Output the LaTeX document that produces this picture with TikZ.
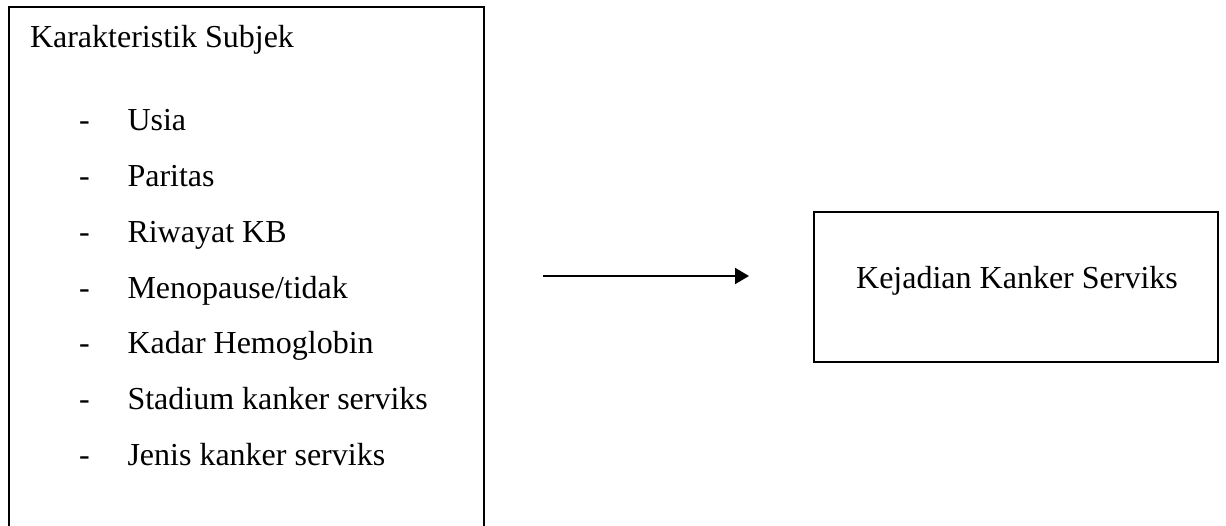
\documentclass[tikz,border=0pt]{standalone}
\usepackage{fontspec}
\setmainfont{Liberation Serif}
\usetikzlibrary{arrows.meta}
\begin{document}
\begin{tikzpicture}[x=0.375pt, y=-0.375pt, line width=0.75pt,
    font=\fontsize{12}{14}\selectfont,
    label text/.style={anchor=base west, inner sep=0pt},
    boxframe/.style={draw, inner sep=0pt, minimum width=151.5pt, minimum height=56.25pt}]
	\path[use as bounding box, clip] (0,0) rectangle (1226,526);

	% left frame, open below the page edge
	\draw (9,560) -- (9,7) -- (484,7) -- (484,560);
	\node[label text] (subjek) at (29,48) {Karakteristik Subjek};

	\foreach \txt [count=\i] in {Usia, Paritas, Riwayat KB, Menopause/tidak,
	    Kadar Hemoglobin, Stadium kanker serviks, Jenis kanker serviks} {
		\node[label text] (dash\i) at (78,{131+55.7*(\i-1)}) {-};
		\node[label text] (item\i) at (126.5,{131+55.7*(\i-1)}) {\txt};
	}

	% arrow
	\coordinate (arrowstart) at (543,276);
	\coordinate (arrowend) at (749,276);
	\draw[-{Triangle[length=5.25pt, width=6pt]}] (arrowstart) -- (arrowend);

	% right box
	\node[boxframe] (kejadianbox) at (1016,287) {};
	\node[anchor=base, inner sep=0pt] (kejadian) at (1017,289) {Kejadian Kanker Serviks};
\end{tikzpicture}
\end{document}
